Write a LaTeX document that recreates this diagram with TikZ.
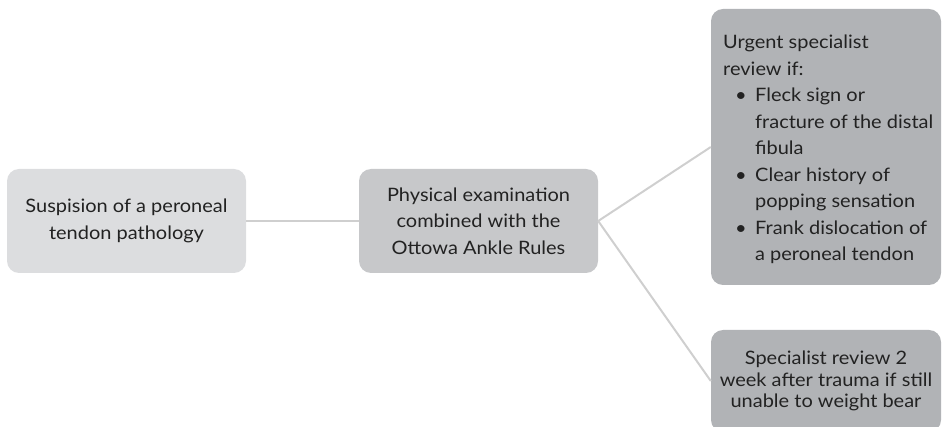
\documentclass[tikz,border=0pt]{standalone}
\usepackage{fontspec}
\setmainfont{Lato}[FakeStretch=1.08]
\definecolor{boxA}{HTML}{DCDDDF}
\definecolor{boxB}{HTML}{C7C8CA}
\definecolor{boxC}{HTML}{B1B3B6}
\definecolor{linegray}{HTML}{CFCFCF}
\definecolor{textgray}{HTML}{222222}
\newcommand{\bul}[1]{\hspace*{12pt}\makebox[20pt][l]{\textbullet}#1}
\newcommand{\cont}[1]{\hspace*{32pt}#1}
\begin{document}
\begin{tikzpicture}[x=1pt,y=-1pt,
  box/.style={rounded corners=12pt,inner sep=0pt,align=center,text=textgray,
    font=\fontsize{18.5}{26.5}\selectfont},
  link/.style={draw=linegray,line width=2pt}]
\useasboundingbox (0,0) rectangle (942,427);
\node[box,fill=boxA,minimum width=239pt,minimum height=104pt] (susp) at (126.5,221) {Suspision of a peroneal\\tendon pathology};
\node[box,fill=boxB,minimum width=239pt,minimum height=104pt] (exam) at (478.5,221) {Physical examination\\combined with the\\Ottowa Ankle Rules};
\node[box,fill=boxC,minimum width=230pt,minimum height=276pt] (urgent) at (826,147) {};
\node[box,align=left,anchor=west] (urgtext) at (723,149.5) {Urgent specialist\\review if:\\
  \bul{Fleck sign or}\\\cont{fracture of the distal}\\\cont{fibula}\\
  \bul{Clear history of}\\\cont{popping sensation}\\
  \bul{Frank dislocation of}\\\cont{a peroneal tendon}};
\node[box,fill=boxC,minimum width=230pt,minimum height=102pt,
  font=\fontsize{18.5}{21.5}\selectfont] (review) at (826,381) {Specialist review 2\\week after trauma if still\\unable to weight bear};
% connectors
\draw[link] (susp.east) -- (exam.west);
\draw[link] (exam.east) -- (urgent.west);
\draw[link] (exam.east) -- (review.west);
\end{tikzpicture}
\end{document}
